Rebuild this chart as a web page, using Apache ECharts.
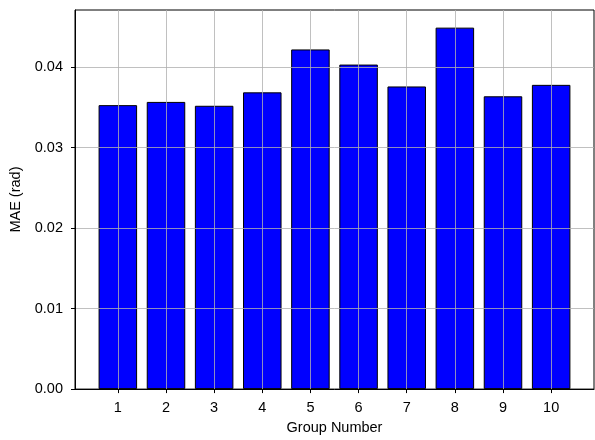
<!DOCTYPE html>
<html>
<head>
<meta charset="utf-8">
<script src="https://cdn.jsdelivr.net/npm/echarts@6/dist/echarts.min.js"></script>
<style>html,body{margin:0;padding:0;background:#fff}#c{width:595px;height:440px}</style>
</head>
<body>
<div id="c"></div>
<script>
const groups = [1, 2, 3, 4, 5, 6, 7, 8, 9, 10];
const mae = [0.03528, 0.03568, 0.03520, 0.03687, 0.04220, 0.04032, 0.03760, 0.04491, 0.03638, 0.03780];
const yTicks = [0, 0.01, 0.02, 0.03, 0.04];
const xRange = [0.11, 10.89];
const yMax = 0.0471;

const chart = echarts.init(document.getElementById('c'), null, {renderer: 'canvas'});
const font = 'Liberation Sans, Arial, sans-serif';
const fs = 14.5;
chart.setOption({
  animation: false,
  grid: {left: 75, right: 1, top: 10, bottom: 44, show: true, borderColor: '#000', borderWidth: 1, backgroundColor: 'transparent'},
  xAxis: {
    type: 'value', min: xRange[0], max: xRange[1], z: 5,
    name: 'Group Number', nameLocation: 'middle', nameGap: 29,
    nameTextStyle: {fontFamily: font, fontSize: fs, color: '#000'},
    axisLine: {show: true, onZero: false, lineStyle: {color: '#000', width: 1}},
    axisTick: {show: true, length: 4, customValues: groups, lineStyle: {color: '#000'}},
    axisLabel: {customValues: groups, margin: 11, fontFamily: font, fontSize: fs, color: '#000'},
    splitLine: {show: true, lineStyle: {color: '#b0b0b0', width: 0.8}}
  },
  yAxis: {
    type: 'value', min: 0, max: yMax, z: 5,
    name: 'MAE (rad)', nameLocation: 'middle', nameGap: 48,
    nameTextStyle: {fontFamily: font, fontSize: fs, color: '#000'},
    axisLine: {show: true, lineStyle: {color: '#000', width: 1}},
    axisTick: {show: true, length: 4, customValues: yTicks, lineStyle: {color: '#000'}},
    axisLabel: {customValues: yTicks, margin: 12, fontFamily: font, fontSize: fs, color: '#000',
      formatter: v => v.toFixed(2)},
    splitLine: {show: true, lineStyle: {color: '#b0b0b0', width: 0.8}}
  },
  series: [{
    type: 'bar',
    data: groups.map((g, i) => [g, mae[i]]),
    barWidth: '80%',
    itemStyle: {color: '#0000ff', borderColor: '#000', borderWidth: 1}
  }]
});
</script>
</body>
</html>
